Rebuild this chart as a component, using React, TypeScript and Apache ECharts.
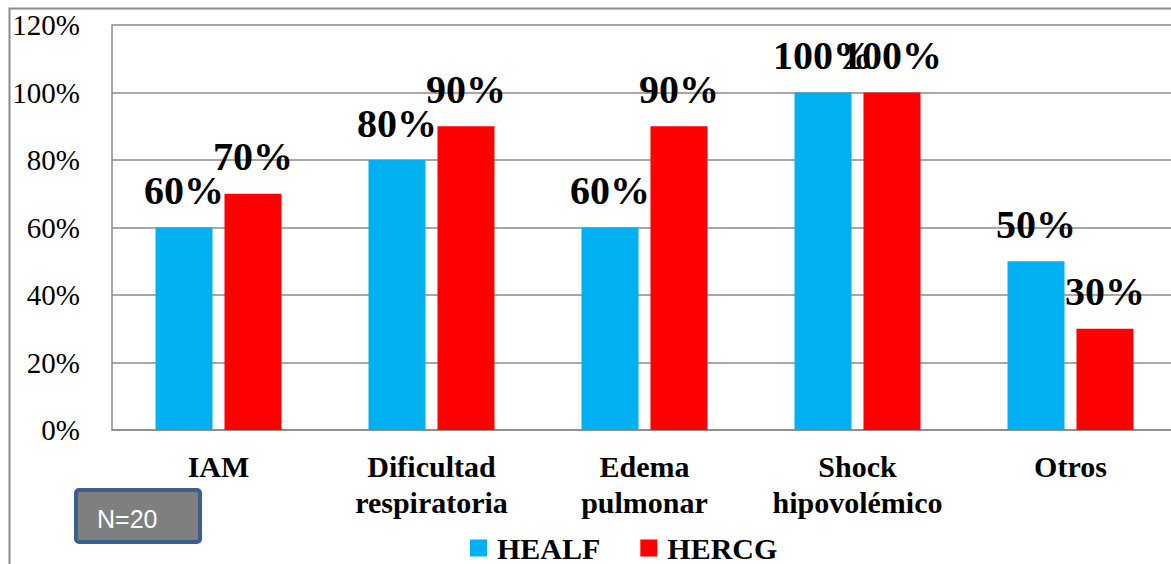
import React, { useEffect, useRef } from "react";
import * as echarts from "echarts";

const categories = [
  "IAM",
  "Dificultad\nrespiratoria",
  "Edema\npulmonar",
  "Shock\nhipovolémico",
  "Otros",
];
const healf = [60, 80, 60, 100, 50];
const hercg = [70, 90, 90, 100, 30];
const seriesNames = ["HEALF", "HERCG"];
const noteText = "N=20";

const SERIF = "'Liberation Serif', 'Times New Roman', serif";
const SANS = "'Liberation Sans', Arial, sans-serif";

export default function App() {
  const ref = useRef<HTMLDivElement>(null);

  useEffect(() => {
    if (!ref.current) return;
    const chart = echarts.init(ref.current, null, { renderer: "svg" });

    const valueLabel = {
      show: true,
      position: "top" as const,
      distance: 17,
      formatter: "{c}%",
      fontFamily: SERIF,
      fontWeight: "bold" as const,
      fontSize: 40,
      color: "#000",
    };

    chart.setOption({
      animation: false,
      backgroundColor: "#fff",
      grid: { left: 112, top: 25, right: 3, bottom: 134, containLabel: false },
      legend: {
        data: seriesNames,
        left: 465,
        top: 528,
        icon: "rect",
        itemWidth: 17,
        itemHeight: 17,
        itemGap: 40,
        textStyle: {
          fontFamily: SERIF,
          fontWeight: "bold",
          fontSize: 30,
          lineHeight: 30,
          color: "#000",
          padding: [0, 0, 0, 5],
        },
      },
      xAxis: {
        type: "category",
        data: categories,
        axisLine: { show: true, lineStyle: { color: "#8a8a8a", width: 1.5 } },
        axisTick: { show: false },
        axisLabel: {
          margin: 18,
          interval: 0,
          fontFamily: SERIF,
          fontWeight: "bold",
          fontSize: 30,
          lineHeight: 36,
          color: "#000",
        },
      },
      yAxis: {
        type: "value",
        min: 0,
        max: 120,
        interval: 20,
        axisLine: { show: true, lineStyle: { color: "#8a8a8a", width: 1.5 } },
        axisTick: { show: false },
        splitLine: { show: true, lineStyle: { color: "#8a8a8a", width: 1.5 } },
        axisLabel: {
          margin: 32,
          formatter: "{value}%",
          fontFamily: SERIF,
          fontSize: 29,
          color: "#000",
        },
      },
      series: [
        {
          name: seriesNames[0],
          type: "bar",
          data: healf,
          barWidth: 57,
          barGap: "21%",
          barCategoryGap: "41%",
          itemStyle: { color: "#00B0F0" },
          label: valueLabel,
        },
        {
          name: seriesNames[1],
          type: "bar",
          data: hercg,
          barWidth: 57,
          barGap: "21%",
          barCategoryGap: "41%",
          itemStyle: { color: "#FF0000" },
          label: valueLabel,
        },
      ],
      graphic: [
        {
          type: "rect",
          left: 7,
          top: 6,
          shape: { width: 1300, height: 700 },
          style: { fill: "none", stroke: "#8a8a8a", lineWidth: 2 },
          silent: true,
        },
        {
          type: "rect",
          left: 74,
          top: 488,
          shape: { width: 124, height: 52, r: 3 },
          style: { fill: "#7F7F7F", stroke: "#3A5F8F", lineWidth: 4 },
          silent: true,
        },
        {
          type: "text",
          left: 97,
          top: 506,
          style: {
            text: noteText,
            fill: "#fff",
            fontFamily: SANS,
            fontSize: 25,
          },
          silent: true,
        },
      ],
    });

    return () => chart.dispose();
  }, []);

  return (
    <div
      style={{
        position: "absolute",
        left: 0,
        top: 0,
        width: 1171,
        height: 564,
        overflow: "hidden",
        background: "#fff",
      }}
    >
      <div ref={ref} style={{ width: 1180, height: 564 }} />
    </div>
  );
}
